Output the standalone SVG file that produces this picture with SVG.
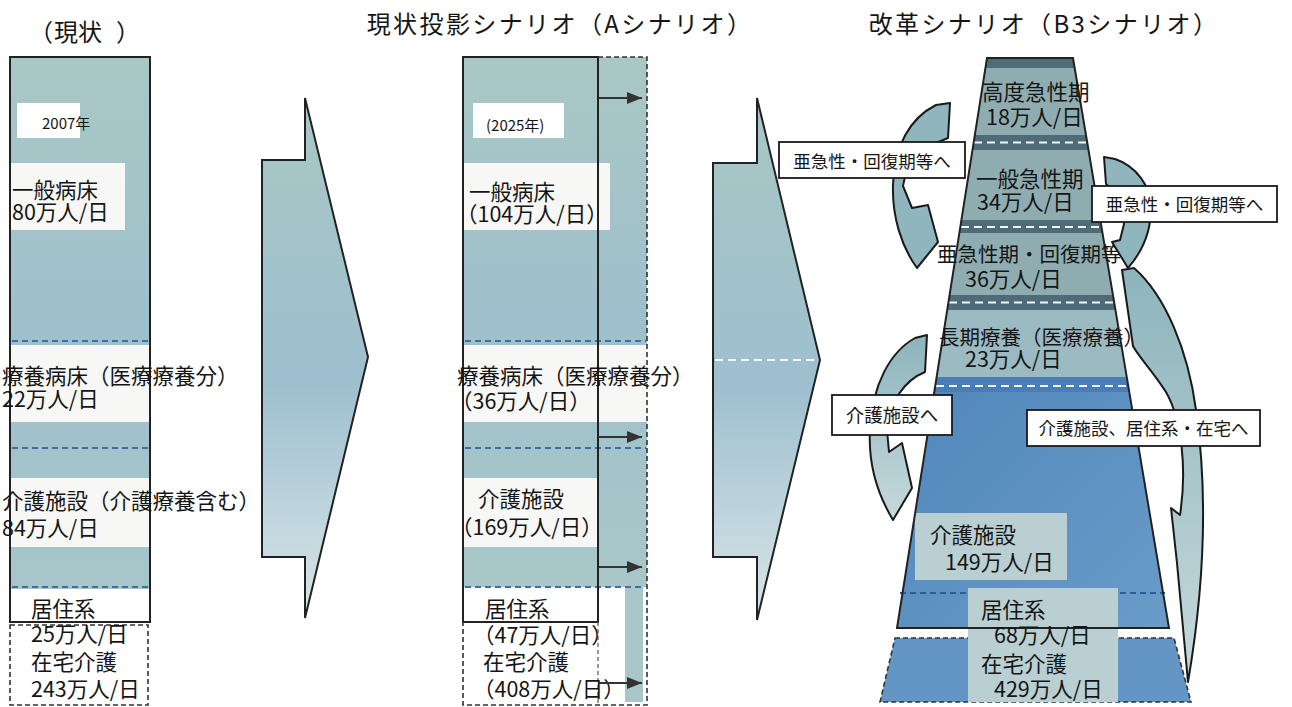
<svg xmlns="http://www.w3.org/2000/svg" width="1292" height="707" viewBox="0 0 1292 707">
<defs>
  <linearGradient id="colGrad" x1="0" y1="0" x2="0" y2="1">
    <stop offset="0" stop-color="#a9c7c4"/>
    <stop offset="0.5" stop-color="#9ec0cc"/>
    <stop offset="1" stop-color="#a9c7c8"/>
  </linearGradient>
  <linearGradient id="chevGrad" x1="0" y1="0" x2="0" y2="1">
    <stop offset="0" stop-color="#a8c7c3"/>
    <stop offset="0.55" stop-color="#9ebfcf"/>
    <stop offset="1" stop-color="#d9e6e8"/>
  </linearGradient>
  <linearGradient id="blueGrad" x1="0" y1="0" x2="1" y2="1">
    <stop offset="0" stop-color="#4f86bb"/>
    <stop offset="1" stop-color="#6a9cc9"/>
  </linearGradient>
  <linearGradient id="curveGrad" x1="0" y1="0" x2="0" y2="1">
    <stop offset="0" stop-color="#8db4bc"/>
    <stop offset="1" stop-color="#c6d9dc"/>
  </linearGradient>
  <marker id="arrowHead" markerUnits="userSpaceOnUse" markerWidth="15" markerHeight="12" refX="15" refY="6" orient="auto">
    <path d="M0,0 L15,6 L0,12 Z" fill="#333"/>
  </marker>
</defs>
<style>
  .t { font-family: "Noto Sans CJK JP", "Liberation Sans", sans-serif; fill: #151515; }
  .lbl { font-size: 21.5px; }
  .ttl { font-size: 24px; letter-spacing: 2.4px; }
  .sm { font-size: 15px; }
  .tag { font-size: 17.5px; }
  .box { fill: #ffffff; stroke: #1a1a1a; stroke-width: 1.8; }
  .outline { fill: none; stroke: #222; stroke-width: 2; }
  .dashbox { fill: none; stroke: #333; stroke-width: 1.6; stroke-dasharray: 5 3; }
  .bluedash { stroke: #3f6ea5; stroke-width: 2; stroke-dasharray: 6 4; fill: none; }
  .whitedash { stroke: #f2f6f7; stroke-width: 2; stroke-dasharray: 8 5; fill: none; }
  .band { fill: #f7f8f5; }
  .curve { stroke: #1a1a1a; stroke-width: 2; stroke-linejoin: round; }
  .seg { fill: #8fadb1; }
  .dark { fill: #4f6b78; }
  .lightbox { fill: #b9cfd2; }
  .flow { stroke: #333; stroke-width: 2; marker-end: url(#arrowHead); }
</style>

<rect x="0" y="0" width="1292" height="707" fill="#ffffff"/>

<!-- Titles -->
<g id="title-current">
  <text class="t" x="29" y="41" style="font-size:24px"><tspan x="29">（</tspan><tspan x="54">現状</tspan><tspan x="116">）</tspan></text>
</g>
<g id="title-a">
  <text class="t ttl" x="560" y="33" text-anchor="middle">現状投影シナリオ（Aシナリオ）</text>
</g>
<g id="title-b3">
  <text class="t ttl" x="1044" y="33" text-anchor="middle">改革シナリオ（B3シナリオ）</text>
</g>

<!-- Current (2007) column -->
<g id="col-current">
  <rect x="10" y="57" width="140" height="565" fill="url(#colGrad)"/>
  <rect x="17" y="103" width="63" height="35" fill="#ffffff"/>
  <rect x="10" y="163" width="115" height="67" class="band"/>
  <rect x="10" y="345" width="140" height="77" class="band"/>
  <rect x="10" y="478" width="140" height="69" class="band"/>
  <rect x="10" y="589" width="140" height="33" fill="#ffffff"/>
  <line x1="12" y1="341" x2="148" y2="341" class="bluedash"/>
  <line x1="12" y1="448" x2="148" y2="448" class="bluedash"/>
  <line x1="12" y1="587" x2="148" y2="587" class="bluedash"/>
  <rect x="10" y="57" width="140" height="565" class="outline"/>
  <rect x="10" y="625" width="138" height="80" class="dashbox"/>
  <text class="t sm" x="42" y="129">2007年</text>
  <text class="t lbl" x="12" y="198">一般病床</text>
  <text class="t lbl" x="12" y="220">80万人/日</text>
  <text class="t lbl" x="2" y="384">療養病床（医療療養分）</text>
  <text class="t lbl" x="2" y="407">22万人/日</text>
  <text class="t lbl" x="2" y="509">介護施設（介護療養含む）</text>
  <text class="t lbl" x="2" y="536">84万人/日</text>
  <text class="t lbl" x="31" y="617">居住系</text>
  <text class="t lbl" x="31" y="642">25万人/日</text>
  <text class="t lbl" x="31" y="670">在宅介護</text>
  <text class="t lbl" x="31" y="697">243万人/日</text>
</g>

<!-- Chevron 1 -->
<g id="chevron-1">
  <path d="M262,160 H305 V98 L368,357 L305,618 V557 H262 Z" class="outline" style="fill:url(#chevGrad)"/>
</g>

<!-- Projection (2025, A scenario) column -->
<g id="col-projection">
  <rect x="463" y="57" width="184" height="530" fill="url(#colGrad)"/>
  <rect x="625" y="587" width="18" height="115" fill="#a9c7c8"/>
  <rect x="473" y="103" width="91" height="35" fill="#ffffff"/>
  <rect x="463" y="163" width="147" height="67" class="band"/>
  <rect x="463" y="345" width="184" height="77" class="band"/>
  <rect x="463" y="478" width="135" height="69" class="band"/>
  <rect x="463" y="589" width="135" height="33" fill="#ffffff"/>
  <line x1="465" y1="341" x2="646" y2="341" class="bluedash"/>
  <line x1="465" y1="448" x2="646" y2="448" class="bluedash"/>
  <line x1="465" y1="587" x2="645" y2="587" class="bluedash"/>
  <rect x="463" y="57" width="135" height="565" class="outline"/>
  <path d="M598,57 H647 V705 H463 V622" class="dashbox"/>
  <line x1="598" y1="622" x2="598" y2="705" stroke="#555" stroke-width="1.2" stroke-dasharray="4 3"/>
  <text class="t sm" x="486" y="131">(2025年)</text>
  <text class="t lbl" x="469" y="200">一般病床</text>
  <text class="t lbl" x="456" y="222">（104万人/日）</text>
  <text class="t lbl" x="457" y="384">療養病床（医療療養分）</text>
  <text class="t lbl" x="451" y="409">（36万人/日）</text>
  <text class="t lbl" x="478" y="507">介護施設</text>
  <text class="t lbl" x="451" y="535">（169万人/日）</text>
  <text class="t lbl" x="485" y="617">居住系</text>
  <text class="t lbl" x="473" y="643">（47万人/日）</text>
  <text class="t lbl" x="483" y="670">在宅介護</text>
  <text class="t lbl" x="473" y="697">（408万人/日）</text>
</g>

<!-- Chevron 2 -->
<g id="chevron-2">
  <path d="M713,163 H757 V98 L820,360 L757,620 V557 H713 Z" class="outline" style="fill:url(#chevGrad)"/>
  <line x1="715" y1="360" x2="816" y2="360" class="whitedash"/>
</g>

<!-- Reform scenario (B3) trapezoid -->
<g id="scenario-b3">
  <polygon points="987,58 1073,58 1074.6,68 985.4,68" class="dark"/>
  <polygon points="985.4,68 1074.6,68 1086,135 974.8,135" class="seg"/>
  <polygon points="974.8,135 1086,135 1088.5,150 972.5,150" class="dark"/>
  <line x1="974" y1="142.5" x2="1087" y2="142.5" class="whitedash"/>
  <polygon points="972.5,150 1088.5,150 1100,220 961.4,220" class="seg"/>
  <polygon points="961.4,220 1100,220 1102.2,233 959.4,233" class="dark"/>
  <line x1="961" y1="227" x2="1101" y2="227" class="whitedash"/>
  <polygon points="959.4,233 1102.2,233 1112.5,295 949.6,295" class="seg"/>
  <polygon points="949.6,295 1112.5,295 1115,310 947.2,310" class="dark"/>
  <line x1="949" y1="302.5" x2="1113" y2="302.5" class="whitedash"/>
  <polygon points="947.2,310 1115,310 1126,377 936.6,377" fill="#9bbac2"/>
  <polygon points="936.6,377 1126,377 1169,628 897,628" fill="url(#blueGrad)"/>
  <polygon points="936.6,377 1126,377 1128.6,392 934.2,392" fill="#4a7db3"/>
  <line x1="936" y1="386" x2="1127" y2="386" class="whitedash"/>
  <polygon points="895,638 1174,638 1191,702 880,702" class="dashbox" style="fill:#6396c5"/>
  <rect x="915" y="513" width="152" height="67" class="lightbox"/>
  <line x1="900" y1="593" x2="1165" y2="593" stroke="#2d5d97" stroke-width="2" stroke-dasharray="6 4"/>
  <rect x="968" y="588" width="150" height="114" class="lightbox"/>
  <polygon points="987,58 1073,58 1169,628 897,628" class="outline"/>
  <text class="t lbl" x="982" y="100">高度急性期</text>
  <text class="t lbl" x="986" y="125">18万人/日</text>
  <text class="t lbl" x="976" y="187">一般急性期</text>
  <text class="t lbl" x="977" y="210">34万人/日</text>
  <text class="t lbl" x="937" y="262" style="font-size:20.5px">亜急性期・回復期等</text>
  <text class="t lbl" x="965" y="287">36万人/日</text>
  <text class="t lbl" x="939" y="345" style="font-size:20.5px">長期療養（医療療養）</text>
  <text class="t lbl" x="965" y="367">23万人/日</text>
  <text class="t lbl" x="930" y="543">介護施設</text>
  <text class="t lbl" x="945" y="570">149万人/日</text>
  <text class="t lbl" x="981" y="618">居住系</text>
  <text class="t lbl" x="994" y="643">68万人/日</text>
  <text class="t lbl" x="981" y="672">在宅介護</text>
  <text class="t lbl" x="994" y="697">429万人/日</text>
</g>

<!-- Connectors -->
<g id="connectors">
  <line x1="599" y1="98" x2="642" y2="98" class="flow"/>
  <line x1="599" y1="437" x2="642" y2="437" class="flow"/>
  <line x1="599" y1="567" x2="642" y2="567" class="flow"/>
  <line x1="599" y1="683" x2="642" y2="683" class="flow"/>
  <path id="curve-a" class="curve" fill="#8fb6bd" d="M936,105 L950,103 L948,138 C926,146 906,162 903,186 L912,208 L928,205 L938,242 L917,268 C901,246 892,216 893,185 C894,146 910,118 936,105 Z"/>
  <path id="curve-b" class="curve" fill="#8fb6bd" d="M1104,157 L1115,159 C1136,166 1151,186 1151,208 C1151,232 1142,252 1128,268 L1112,242 L1120,240 L1124,224 C1122,205 1115,190 1106,184 Z"/>
  <path id="curve-c" class="curve" fill="url(#curveGrad)" d="M1122,270 L1134,268 C1165,295 1188,350 1196,410 C1206,480 1207,570 1188,682 L1177,563 L1171,508 L1180,515 C1187,470 1182,420 1166,392 C1152,370 1138,356 1133,346 Z"/>
  <path id="curve-d" class="curve" fill="url(#curveGrad)" d="M915,338 L927,335 L925,372 C905,380 889,402 887,430 L889,452 L902,443 L912,488 L893,520 C878,495 868,465 870,430 C872,385 890,352 915,338 Z"/>
</g>

<!-- Labels -->
<g id="label-subacute-left">
  <rect x="779" y="142" width="186" height="36" class="box"/>
  <text class="t tag" x="872" y="168" text-anchor="middle">亜急性・回復期等へ</text>
</g>
<g id="label-subacute-right">
  <rect x="1092" y="186" width="185" height="36" class="box"/>
  <text class="t tag" x="1184.5" y="211" text-anchor="middle">亜急性・回復期等へ</text>
</g>
<g id="label-care-facility">
  <rect x="832" y="395" width="120" height="40" class="box"/>
  <text class="t tag" x="892" y="422" text-anchor="middle" style="font-size:18.5px">介護施設へ</text>
</g>
<g id="label-care-home">
  <rect x="1027" y="410" width="233" height="36" class="box"/>
  <text class="t tag" x="1143.5" y="435" text-anchor="middle">介護施設、居住系・在宅へ</text>
</g>
</svg>
